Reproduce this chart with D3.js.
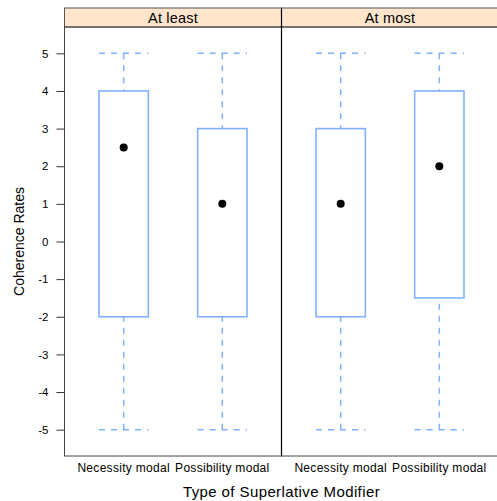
<!DOCTYPE html>
<html>
<head>
<meta charset="utf-8">
<script src="https://cdn.jsdelivr.net/npm/d3@7"></script>
<style>
  body { margin: 0; background: #fff; }
  text { font-family: "Liberation Sans", Arial, sans-serif; fill: #000; }
</style>
</head>
<body>
<div id="chart"></div>
<script>
  // panels (strip labels) and categories
  var panels = ["At least", "At most"];
  var categories = ["Necessity modal", "Possibility modal"];

  // per panel, per category: [lower whisker, q1, median, q3, upper whisker]
  var atLeastStats = [[-5, -2, 2.5, 4, 5], [-5, -2, 1, 3, 5]];
  var atMostStats = [[-5, -2, 1, 3, 5], [-5, -1.5, 2, 4, 5]];
  var yTicks = [-5, -4, -3, -2, -1, 0, 1, 2, 3, 4, 5];

!function () {
  'use strict';

  var statsByPanel = [atLeastStats, atMostStats];

  var W = 497, H = 501;
  var left = 64.5, panelW = 217, panelTop = 27, bottom = 456, stripH = 19;
  var boxCol = "#80b2ff";

  var svg = d3.select("#chart").append("svg")
    .attr("width", W)
    .attr("height", H);

  var y = d3.scaleLinear().domain([-5.7, 5.7]).range([bottom, panelTop]);

  panels.forEach(function (name, p) {
    var x0 = left + p * panelW;
    var x = d3.scaleLinear().domain([0.4, 2.6]).range([x0, x0 + panelW]);
    var g = svg.append("g");

    // strip
    g.append("rect")
      .attr("x", x0).attr("y", panelTop - stripH)
      .attr("width", panelW).attr("height", stripH)
      .attr("fill", "#ffe5cc")
      .attr("stroke", "#555").attr("stroke-width", 1);
    g.append("text")
      .attr("x", x0 + panelW / 2).attr("y", panelTop - 4.5)
      .attr("text-anchor", "middle")
      .style("font-size", "14.5px")
      .style("letter-spacing", "0.2px")
      .text(name);

    var data = statsByPanel[p].map(function (s, i) { return { s: s, i: i + 1 }; });
    var hw = 0.25;

    var box = g.selectAll("g.box").data(data).enter().append("g").attr("class", "box");

    // whiskers
    box.append("line")
      .attr("x1", function (d) { return x(d.i); }).attr("x2", function (d) { return x(d.i); })
      .attr("y1", function (d) { return y(d.s[0]); }).attr("y2", function (d) { return y(d.s[1]); })
      .attr("stroke", boxCol).attr("stroke-width", 1.5).attr("stroke-dasharray", "6,6");
    box.append("line")
      .attr("x1", function (d) { return x(d.i); }).attr("x2", function (d) { return x(d.i); })
      .attr("y1", function (d) { return y(d.s[4]); }).attr("y2", function (d) { return y(d.s[3]); })
      .attr("stroke", boxCol).attr("stroke-width", 1.5).attr("stroke-dasharray", "6,6");

    // caps
    [0, 4].forEach(function (k) {
      box.append("line")
        .attr("x1", function (d) { return x(d.i - hw); }).attr("x2", function (d) { return x(d.i + hw); })
        .attr("y1", function (d) { return y(d.s[k]); }).attr("y2", function (d) { return y(d.s[k]); })
        .attr("stroke", boxCol).attr("stroke-width", 1.5).attr("stroke-dasharray", "6,6");
    });

    // box
    box.append("rect")
      .attr("x", function (d) { return x(d.i - hw); })
      .attr("width", function (d) { return x(d.i + hw) - x(d.i - hw); })
      .attr("y", function (d) { return y(d.s[3]); })
      .attr("height", function (d) { return y(d.s[1]) - y(d.s[3]); })
      .attr("fill", "none")
      .attr("stroke", boxCol).attr("stroke-width", 1.6);

    // median dot
    box.append("circle")
      .attr("cx", function (d) { return x(d.i); })
      .attr("cy", function (d) { return y(d.s[2]); })
      .attr("r", 4)
      .attr("fill", "#000");

    // panel border
    g.append("rect")
      .attr("x", x0).attr("y", panelTop)
      .attr("width", panelW).attr("height", bottom - panelTop)
      .attr("fill", "none")
      .attr("stroke", "#444").attr("stroke-width", 1);

    // x labels
    g.selectAll("text.xl").data(categories).enter().append("text")
      .attr("class", "xl")
      .attr("x", function (d, i) { return x(i + 1); })
      .attr("y", 472)
      .attr("text-anchor", "middle")
      .style("font-size", "12px")
      .style("letter-spacing", "0.3px")
      .text(function (d) { return d; });
  });

  // divider between panels
  svg.append("line")
    .attr("x1", left + panelW).attr("x2", left + panelW)
    .attr("y1", panelTop - stripH).attr("y2", bottom)
    .attr("stroke", "#000").attr("stroke-width", 1.2);

  // y axis
  var yAxis = d3.axisLeft(y).tickValues(yTicks).tickSize(8).tickPadding(8)
    .tickFormat(function (d) { return String(d); });
  var ya = svg.append("g")
    .attr("transform", "translate(" + left + ",0)")
    .call(yAxis);
  ya.select(".domain").remove();
  ya.selectAll("line").attr("stroke", "#333");
  ya.selectAll("text").style("font-size", "11.5px").style("font-family", "Liberation Sans, Arial, sans-serif");

  // axis titles
  svg.append("text")
    .attr("transform", "translate(24," + (panelTop + bottom) / 2 + ") rotate(-90)")
    .attr("text-anchor", "middle")
    .style("font-size", "14px")
    .text("Coherence Rates");

  svg.append("text")
    .attr("x", left + panelW).attr("y", 497)
    .attr("text-anchor", "middle")
    .style("font-size", "15px")
    .style("letter-spacing", "0.4px")
    .text("Type of Superlative Modifier");
}();
</script>
</body>
</html>
